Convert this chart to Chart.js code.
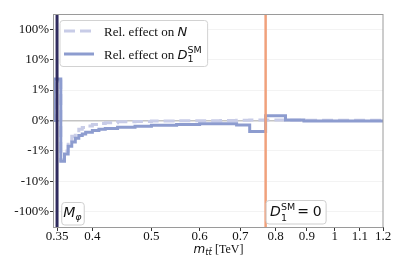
<!DOCTYPE html>
<html>
<head>
<meta charset="utf-8">
<script src="https://cdn.jsdelivr.net/npm/chart.js@4.4.1/dist/chart.umd.min.js"></script>
<style>
html, body { margin: 0; padding: 0; background: #fff; }
#wrap { width: 407px; height: 271px; }
</style>
</head>
<body>
<div id="wrap"><canvas id="chart" width="407" height="271"></canvas></div>
<script>
// bin edges in TeV, the first bin sits below threshold
const binEdges = [0.34, 0.346, 0.355, 0.36, 0.365, 0.37, 0.375, 0.38, 0.385, 0.39, 0.40, 0.41, 0.42,
                  0.44, 0.47, 0.50, 0.55, 0.60, 0.65, 0.69, 0.725, 0.77, 0.83, 0.89, 1.2];
// relative effects in %, one value per bin
const nEffect  = [0, 2.0, -2.0, -1.0, -0.72, -0.52, -0.39, -0.29, -0.23, -0.18, -0.13, -0.10,
                  -0.07, -0.045, -0.03, -0.02, -0.01, -0.005, 0, 0.01, 0.02, 0.02, 0.01, 0.01];
const d1Effect = [0, 2.3, -2.2, -1.26, -0.85, -0.71, -0.58, -0.49, -0.44, -0.39, -0.33, -0.29,
                  -0.26, -0.22, -0.19, -0.16, -0.13, -0.11, -0.11, -0.15, -0.36, 0.16, 0.02, -0.015];

const xTicks = [0.35, 0.4, 0.5, 0.6, 0.7, 0.8, 0.9, 1.0, 1.1, 1.2];
const xTickLabels = ['0.35', '0.4', '0.5', '0.6', '0.7', '0.8', '0.9', '1', '1.1', '1.2'];
const yTicks = [-100, -10, -1, 0, 1, 10, 100];
const yTickLabels = ['-100%', '-10%', '-1%', '0%', '1%', '10%', '100%'];

const mPhi = 0.35;    // M_phi marker
const d1Zero = 0.77;  // where D1^SM = 0

const colN = '#c8cce7';
const colD1 = '#8d9ccf';
const SERIF = '"Liberation Serif", "Times New Roman", serif';
const SANS = '"DejaVu Sans", sans-serif';

// symmetric log scale, linear between -1% and 1%
const LINTHRESH = 1;
function symlog(v) {
    const a = Math.abs(v);
    return a <= LINTHRESH ? v / LINTHRESH : Math.sign(v) * (1 + Math.log10(a / LINTHRESH));
}
function symexp(t) {
    const a = Math.abs(t);
    return a <= 1 ? t * LINTHRESH : Math.sign(t) * LINTHRESH * Math.pow(10, a - 1);
}
class SymlogScale extends Chart.LinearScale {
    buildTicks() {
        return yTicks.map(v => ({value: v}));
    }
    configure() {
        super.configure();
        this._tMin = symlog(this.min);
        this._tMax = symlog(this.max);
    }
    getPixelForValue(v) {
        if (v === null || v === undefined) return NaN;
        return this.getPixelForDecimal((symlog(v) - this._tMin) / (this._tMax - this._tMin));
    }
    getValueForPixel(p) {
        return symexp(this._tMin + this.getDecimalForPixel(p) * (this._tMax - this._tMin));
    }
}
SymlogScale.id = 'symlog';
SymlogScale.defaults = {};
Chart.register(SymlogScale);

const toSteps = (edges, vals) => {
    const pts = vals.map((v, i) => ({x: edges[i], y: v}));
    pts.push({x: edges[edges.length - 1], y: vals[vals.length - 1]});
    return pts;
};

const roundRect = (ctx, x, y, w, h, r) => {
    ctx.beginPath();
    ctx.moveTo(x + r, y);
    ctx.arcTo(x + w, y, x + w, y + h, r);
    ctx.arcTo(x + w, y + h, x, y + h, r);
    ctx.arcTo(x, y + h, x, y, r);
    ctx.arcTo(x, y, x + w, y, r);
    ctx.closePath();
};

const txt = (ctx, s, x, y, font) => {
    ctx.font = font;
    ctx.fillText(s, x, y);
    return ctx.measureText(s).width;
};

const decor = {
    id: 'decor',
    afterDatasetsDraw(chart) {
        const {ctx, chartArea: a, scales: {x}} = chart;
        ctx.save();
        const xm = x.getPixelForValue(mPhi);
        ctx.strokeStyle = '#2f2b5e';
        ctx.lineWidth = 3;
        ctx.beginPath(); ctx.moveTo(xm, a.top); ctx.lineTo(xm, a.bottom); ctx.stroke();
        const xd = x.getPixelForValue(d1Zero);
        ctx.strokeStyle = '#f0a17c';
        ctx.lineWidth = 2.5;
        ctx.beginPath(); ctx.moveTo(xd, a.top); ctx.lineTo(xd, a.bottom); ctx.stroke();
        ctx.restore();
    },
    afterDraw(chart) {
        const {ctx, chartArea: a, scales: {x}} = chart;
        ctx.save();
        // frame
        ctx.strokeStyle = '#9a9a9a';
        ctx.lineWidth = 1;
        ctx.strokeRect(a.left - 0.5, a.top + 0.5, a.right - a.left + 0.5, a.bottom - a.top);

        ctx.fillStyle = '#111';
        ctx.textBaseline = 'alphabetic';
        ctx.textAlign = 'left';

        // legend
        const lx = 60, ly = 20.5, lh = 46;
        ctx.font = '13px ' + SERIF;
        const base = ctx.measureText('Rel. effect on ').width;
        ctx.font = 'italic 13px ' + SANS;
        const dW = ctx.measureText('D').width;
        ctx.font = '9.5px ' + SANS;
        const smW = ctx.measureText('SM').width;
        const lw = 104 + base + dW + smW + 6 - lx;
        roundRect(ctx, lx, ly, lw, lh, 3);
        ctx.fillStyle = 'rgba(255,255,255,0.85)';
        ctx.fill();
        ctx.strokeStyle = '#d2d2d2';
        ctx.stroke();

        ctx.lineWidth = 3;
        ctx.strokeStyle = colN;
        ctx.setLineDash([11, 5]);
        ctx.beginPath(); ctx.moveTo(64, 31); ctx.lineTo(94, 31); ctx.stroke();
        ctx.setLineDash([]);
        ctx.strokeStyle = colD1;
        ctx.beginPath(); ctx.moveTo(64, 54); ctx.lineTo(94, 54); ctx.stroke();

        ctx.fillStyle = '#111';
        let cx = 104;
        cx += txt(ctx, 'Rel. effect on ', cx, 35.5, '13px ' + SERIF);
        txt(ctx, 'N', cx, 35.5, 'italic 13px ' + SANS);
        cx = 104;
        cx += txt(ctx, 'Rel. effect on ', cx, 58.5, '13px ' + SERIF);
        cx += txt(ctx, 'D', cx, 58.5, 'italic 13px ' + SANS);
        txt(ctx, '1', cx, 62, '9.5px ' + SANS);
        txt(ctx, 'SM', cx, 52.5, '9.5px ' + SANS);

        // M_phi label
        const xm = x.getPixelForValue(mPhi);
        let bx = xm + 4.7, by = 202.5;
        roundRect(ctx, bx, by, 22.5, 22.5, 3);
        ctx.fillStyle = 'rgba(255,255,255,0.9)';
        ctx.fill();
        ctx.strokeStyle = '#cfcfcf';
        ctx.lineWidth = 1;
        ctx.stroke();
        ctx.fillStyle = '#111';
        const mw = txt(ctx, 'M', bx + 1.5, 217.3, 'italic 14px ' + SANS);
        txt(ctx, 'φ', bx + 1.5 + mw, 219.8, 'italic 9.5px ' + SANS);

        // D1^SM = 0 label
        const xd = x.getPixelForValue(d1Zero);
        bx = xd + 0.5; by = 200.5;
        roundRect(ctx, bx, by, 60, 23.5, 3);
        ctx.fillStyle = 'rgba(255,255,255,0.9)';
        ctx.fill();
        ctx.strokeStyle = '#cfcfcf';
        ctx.stroke();
        ctx.fillStyle = '#111';
        const dw = txt(ctx, 'D', bx + 4, 215.7, 'italic 14px ' + SANS);
        txt(ctx, '1', bx + 4 + dw, 220.7, '9.5px ' + SANS);
        txt(ctx, 'SM', bx + 4 + dw, 210, '9.5px ' + SANS);
        ctx.textAlign = 'center';
        txt(ctx, '=', bx + 37, 215.7, '14px ' + SANS);
        txt(ctx, '0', bx + 51, 215.7, '14px ' + SANS);
        ctx.textAlign = 'left';

        // x axis title
        ctx.font = 'italic 12px ' + SANS;
        const w1 = ctx.measureText('m').width;
        ctx.font = 'italic 8.5px ' + SANS;
        const w2 = ctx.measureText('tt\u0304').width;
        ctx.font = '12px ' + SERIF;
        const w3 = ctx.measureText(' [TeV]').width;
        let tx = (a.left + a.right) / 2 - (w1 + w2 + w3) / 2;
        tx += txt(ctx, 'm', tx, 252.7, 'italic 12px ' + SANS);
        tx += txt(ctx, 'tt\u0304', tx, 255.2, 'italic 8.5px ' + SANS);
        txt(ctx, ' [TeV]', tx, 252.7, '12px ' + SERIF);
        ctx.restore();
    }
};

new Chart(document.getElementById('chart'), {
    type: 'line',
    data: {
        datasets: [{
            label: 'Rel. effect on N',
            data: toSteps(binEdges, nEffect),
            stepped: 'before',
            borderColor: colN,
            borderWidth: 3,
            borderDash: [11, 5],
            pointRadius: 0,
            fill: false,
            order: 1,
        }, {
            label: 'Rel. effect on D1SM',
            data: toSteps(binEdges, d1Effect),
            stepped: 'before',
            borderColor: colD1,
            borderWidth: 3,
            pointRadius: 0,
            fill: false,
            order: 0,
        }]
    },
    options: {
        responsive: false,
        animation: false,
        layout: {padding: {top: 14, right: 24, left: 0, bottom: 0}},
        plugins: {legend: {display: false}, tooltip: {enabled: false}},
        scales: {
            x: {
                type: 'logarithmic',
                min: 0.346,
                max: 1.2,
                bounds: 'data',
                afterBuildTicks: s => { s.ticks = xTicks.map(v => ({value: v})); },
                afterFit: s => { s.height = 44; },
                ticks: {
                    callback: (v, i) => xTickLabels[i],
                    autoSkip: false,
                    maxRotation: 0,
                    padding: -2.5,
                    color: '#111',
                    font: {family: SERIF, size: 13},
                },
                grid: {drawOnChartArea: false, tickLength: 4, tickColor: '#333'},
                border: {display: false},
            },
            y: {
                type: 'symlog',
                min: -316,
                max: 316,
                afterFit: s => { s.width = 54; },
                ticks: {
                    callback: (v, i) => yTickLabels[i],
                    padding: 1,
                    color: '#111',
                    font: {family: SERIF, size: 13},
                },
                grid: {
                    color: c => (c.tick && c.tick.value === 0) ? '#c4c4c4' : '#f3f3f3',
                    lineWidth: c => (c.tick && c.tick.value === 0) ? 1.4 : 1,
                    tickLength: 4,
                    tickColor: '#333',
                },
                border: {display: false},
            }
        }
    },
    plugins: [decor]
});
</script>
</body>
</html>
